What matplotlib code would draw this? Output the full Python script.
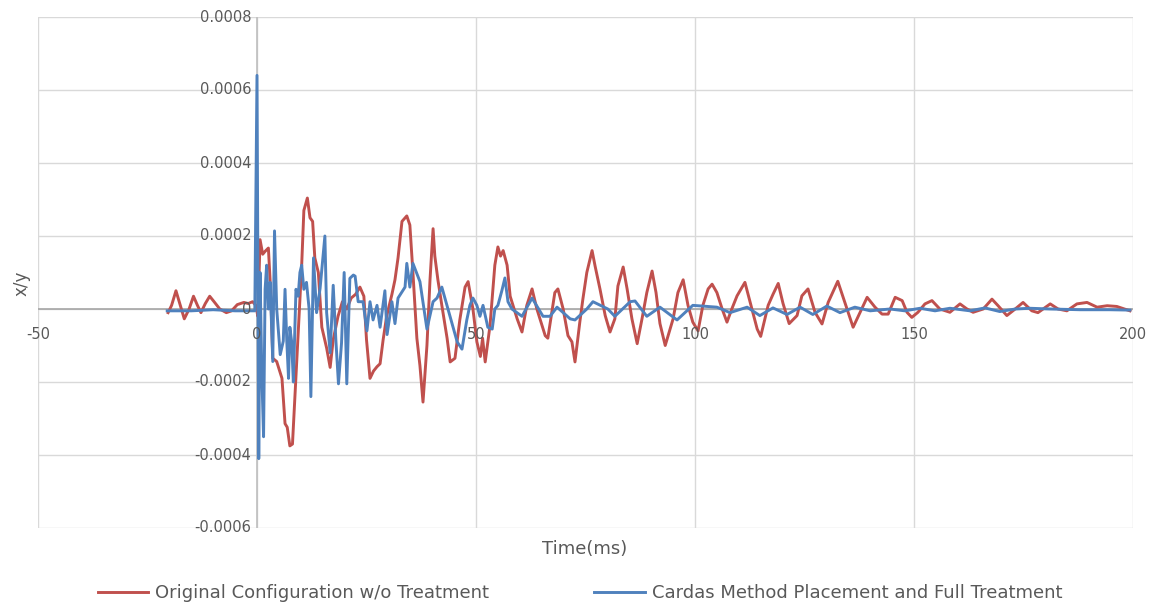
import numpy as np
import matplotlib
matplotlib.use("Agg")
import matplotlib.pyplot as plt

# ---------------- data (time in ms, displacement ratio in units of 1e-4) ----------------
red_t = [-20.3, -19.5, -18.5, -17.5, -16.6, -15.5, -14.5, -13.6, -12.8, -11.8, -10.8, -9.8, -8.5,
         -7.0, -5.8, -4.5, -3.0, -2.0, -1.0, -0.3, 0.2,
         0.7, 1.3, 1.85, 2.6, 3.1, 3.6, 4.5, 5.7, 6.4, 6.9, 7.5, 8.1, 8.7, 9.4, 10.2, 10.7, 11.5,
         12.1, 12.7, 13.2, 14.0, 14.8, 15.9, 16.7, 17.4, 18.5, 19.5, 20.5, 21.5, 22.5, 23.5, 24.4,
         25.0, 25.8, 26.6, 27.4, 28.1, 28.8, 29.6, 30.8, 31.5, 32.2, 33.1, 34.2, 34.9, 35.6, 36.5,
         37.2, 37.9, 38.8, 39.5, 40.2, 40.6, 41.3, 42.2, 43.4, 44.1, 45.2, 46.3, 47.5, 48.2, 49.3,
         50.2, 51.0, 51.5, 52.1, 53.2, 54.3, 55.0, 55.6, 56.2, 57.1, 57.8, 59.4, 60.5, 61.6, 62.8,
         63.9, 65.8, 66.4, 68.0, 68.7, 69.9, 71.0, 71.9, 72.6, 73.7, 74.4, 75.3, 76.5, 77.2, 78.3,
         79.5, 80.6, 81.7, 82.4, 83.6, 84.5, 85.6, 86.8, 87.9, 89.0, 90.2, 91.1, 92.0, 93.2, 95.0,
         96.1, 97.3, 98.4, 99.5, 100.7, 101.8, 103.0, 103.9, 105.0, 106.2, 107.3, 108.4, 109.6,
         111.4, 112.6, 114.2, 115.0, 116.7, 117.8, 119.0, 120.1, 121.5, 123.3, 124.4, 125.8, 127.4,
         129.0, 130.4, 132.6, 134.2, 136.1, 137.7, 139.3, 141.1, 142.7, 144.1, 145.7, 147.3, 148.4,
         149.5, 150.9, 152.5, 154.1, 155.9, 158.2, 160.5, 162.1, 163.5, 165.8, 167.8, 169.2, 171.2,
         173.1, 174.9, 176.9, 178.3, 181.1, 182.9, 184.9, 187.2, 189.5, 191.8, 194.1, 196.3, 199.3]
red_v = [-0.1, 0.1, 0.5, 0.1, -0.27, 0.0, 0.35, 0.1, -0.1, 0.15, 0.35, 0.2, 0.0,
         -0.1, -0.05, 0.12, 0.18, 0.15, 0.2, 0.1, -0.2,
         1.9, 1.5, 1.58, 1.67, 0.54, -1.35, -1.44, -1.9, -3.14, -3.24, -3.75, -3.7, -2.3, -0.69, 1.2, 2.7, 3.04,
         2.5, 2.4, 1.4, 1.0, -0.5, -1.07, -1.6, -0.84, -0.2, 0.2, 0.0, 0.3, 0.4, 0.6, 0.35,
         -0.84, -1.9, -1.7, -1.58, -1.5, -0.84, -0.2, 0.4, 0.8, 1.4, 2.4, 2.55, 2.3, 1.0, -0.8,
         -1.55, -2.55, -1.0, 0.8, 2.2, 1.45, 0.8, 0.1, -0.8, -1.45, -1.35, -0.3, 0.6, 0.75, 0.0,
         -0.9, -1.3, -0.8, -1.45, -0.45, 1.2, 1.7, 1.45, 1.6, 1.2, 0.35, -0.27, -0.63, 0.1, 0.55,
         0.0, -0.73, -0.8, 0.45, 0.55, 0.0, -0.73, -0.9, -1.45, -0.36, 0.27, 1.0, 1.6, 1.17, 0.55,
         -0.18, -0.63, -0.27, 0.63, 1.15, 0.55, -0.27, -0.95, -0.27, 0.45, 1.04, 0.45, -0.4, -1.0, -0.27,
         0.45, 0.8, 0.1, -0.36, -0.6, 0.1, 0.55, 0.68, 0.45, 0.0, -0.36, 0.0, 0.36,
         0.73, 0.18, -0.55, -0.75, 0.1, 0.4, 0.7, 0.15, -0.4, -0.18, 0.36, 0.55, -0.09,
         -0.41, 0.18, 0.76, 0.18, -0.5, -0.09, 0.32, 0.05, -0.14, -0.14, 0.32, 0.23, -0.09,
         -0.23, -0.09, 0.14, 0.23, 0.0, -0.09, 0.14, 0.0, -0.09, 0.0, 0.27, 0.09, -0.18,
         0.0, 0.18, -0.05, -0.1, 0.14, 0.0, -0.05, 0.14, 0.18, 0.05, 0.09, 0.07, -0.05]

blue_t = [-20.5, -15.0, -10.0, -5.0, -0.5,
          0.0, 0.4, 0.7, 1.1, 1.5, 1.85, 2.2, 2.6, 3.0, 3.6, 4.0, 4.5, 5.3, 6.0, 6.4, 6.8, 7.2, 7.5,
          7.9, 8.3, 8.9, 9.4, 9.8, 10.2, 10.7, 11.3, 11.9, 12.3, 12.9, 13.6, 14.4, 15.5, 15.9, 16.7,
          17.4, 18.0, 18.6, 19.3, 19.9, 20.5, 21.2, 22.0, 22.4, 23.1, 24.2, 25.1, 25.8, 26.5, 27.4,
          28.1, 29.2, 29.7, 30.8, 31.5, 32.2, 33.8, 34.2, 34.9, 35.6, 37.2, 38.8, 40.2, 41.1, 42.2,
          43.6, 45.7, 46.8, 47.9, 48.6, 49.3, 50.2, 50.9, 51.6, 52.7, 53.7, 54.3, 55.0, 55.9, 56.6,
          57.3, 58.2, 60.5, 62.8, 65.3, 66.9, 68.5, 71.5, 72.6, 75.3, 76.7, 80.1, 81.7, 85.2, 86.3,
          89.0, 92.0, 95.9, 99.5, 105.0, 108.0, 111.9, 114.8, 117.8, 121.0, 124.0, 126.9, 130.1,
          133.1, 136.5, 140.0, 144.5, 147.9, 151.4, 154.8, 158.2, 162.8, 166.2, 169.6, 173.1,
          176.5, 181.1, 187.9, 194.7, 199.3]
blue_v = [-0.05, -0.05, -0.02, -0.05, -0.05,
          6.4, -4.1, 1.0, -1.8, -3.5, 0.54, 1.2, 0.0, 0.73, -1.44, 2.14, 0.0, -1.25, -0.88, 0.54, -0.88, -1.9, -0.5,
          -0.88, -2.0, 0.54, 0.35, 1.0, 1.2, 0.54, 0.73, 0.0, -2.4, 1.4, -0.1, 0.56, 2.0, -0.1, -1.2,
          0.65, -0.84, -2.05, -0.93, 1.0, -2.05, 0.84, 0.93, 0.9, 0.2, 0.2, -0.6, 0.2, -0.3, 0.1,
          -0.5, 0.5, -0.7, 0.2, -0.4, 0.3, 0.6, 1.25, 0.6, 1.25, 0.75, -0.55, 0.2, 0.3, 0.6,
          0.0, -0.9, -1.1, -0.3, 0.1, 0.3, 0.1, -0.2, 0.1, -0.5, -0.55, 0.0, 0.1, 0.5, 0.85,
          0.2, 0.0, -0.2, 0.3, -0.2, -0.2, 0.05, -0.27, -0.3, 0.0, 0.2, 0.0, -0.2, 0.2, 0.22,
          -0.2, 0.05, -0.3, 0.1, 0.05, -0.1, 0.05, -0.18, 0.03, -0.15, 0.05, -0.15, 0.08,
          -0.1, 0.05, -0.05, 0.0, -0.05, 0.02, -0.05, 0.02, -0.05, 0.03, -0.07, 0.0,
          0.02, 0.0, -0.02, -0.02, -0.03]

x_ticks = [-50, 0, 50, 100, 150, 200]
y_ticks = [-0.0006, -0.0004, -0.0002, 0, 0.0002, 0.0004, 0.0006, 0.0008]
y_tick_labels = ["-0.0006", "-0.0004", "-0.0002", "0", "0.0002", "0.0004", "0.0006", "0.0008"]
series_names = ["Original Configuration w/o Treatment", "Cardas Method Placement and Full Treatment"]

# ---------------- figure ----------------
W, H, DPI = 1156, 607, 100
fig = plt.figure(figsize=(W / DPI, H / DPI), dpi=DPI)
ax = fig.add_axes([38 / W, 1 - 528 / H, (1133 - 38) / W, (528 - 17) / H])

red_c = "#C0504D"
blue_c = "#4F81BD"
grid_c = "#D9D9D9"
text_c = "#595959"
font = "DejaVu Sans"

ax.set_xlim(-50, 200)
ax.set_ylim(-0.0006, 0.0008)
for x in x_ticks:
    ax.axvline(x, color=grid_c, lw=1.0, zorder=0)
for y in y_ticks:
    ax.axhline(y, color=grid_c, lw=1.0, zorder=0)
ax.axvline(0, color="#BFBFBF", lw=1.2, zorder=1)
ax.axhline(0, color="#A6A6A6", lw=1.2, zorder=1)
for s in ax.spines.values():
    s.set_visible(False)
ax.set_xticks([])
ax.set_yticks([])

ax.plot(red_t, np.array(red_v) * 1e-4, color=red_c, lw=2.1, zorder=3, label=series_names[0])
ax.plot(blue_t, np.array(blue_v) * 1e-4, color=blue_c, lw=2.1, zorder=4, label=series_names[1])

# tick labels, Excel style next to the axes crossing
for y, lab in zip(y_ticks, y_tick_labels):
    ax.annotate(lab, xy=(0, y), xycoords="data", xytext=(-4, 0), textcoords="offset points",
                ha="right", va="center", fontsize=10.5, color=text_c, family=font, zorder=5)
for x in x_ticks:
    ax.annotate(str(x), xy=(x, 0), xycoords="data", xytext=(0, -13), textcoords="offset points",
                ha="center", va="top", fontsize=10.5, color=text_c, family=font, zorder=5,
                annotation_clip=False)

fig.text(585 / W, 1 - 549 / H, "Time(ms)", ha="center", va="center", fontsize=13,
         color=text_c, family=font)
fig.text(22 / W, 1 - 283 / H, "x/y", ha="center", va="center", rotation=90, fontsize=12,
         color=text_c, family=font)

leg = fig.legend(loc="center", bbox_to_anchor=(580 / W, 1 - 593 / H), ncol=2, frameon=False,
                 handlelength=2.8, columnspacing=5.8, handletextpad=0.4,
                 prop={"family": font, "size": 13})
for t in leg.get_texts():
    t.set_color(text_c)

fig.savefig("out.png", dpi=DPI, facecolor="white")
